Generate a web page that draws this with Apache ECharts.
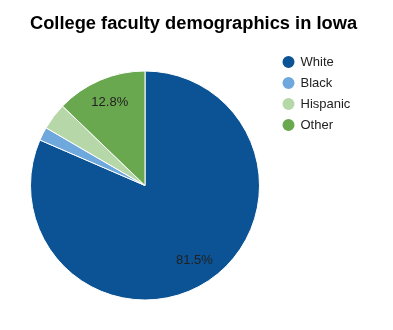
<!DOCTYPE html>
<html>
<head>
<meta charset="utf-8">
<script src="https://cdn.jsdelivr.net/npm/echarts@6/dist/echarts.min.js"></script>
<style>
  html, body { margin: 0; padding: 0; background: #fff; }
  #chart { width: 393px; height: 330px; }
</style>
</head>
<body>
<div id="chart"></div>
<script>
// Faculty share by group, in percent
const categories = ['White', 'Black', 'Hispanic', 'Other'];
const shares = [81.5, 1.9, 3.8, 12.8];
const sliceColors = ['#0b5394', '#6fa8dc', '#b6d7a8', '#6aa84f'];
// Groups whose percentage is printed on the slice
const labelled = ['White', 'Other'];

const center = [145, 185.5];
const radius = 114.5;

const sliceData = categories.map((name, i) => ({
  name,
  value: shares[i],
  itemStyle: { color: sliceColors[i] }
}));

// Transparent ring that carries the labels a little further out than mid-radius
const labelData = categories.map((name, i) => ({
  name,
  value: shares[i],
  label: { show: labelled.includes(name) }
}));

const chart = echarts.init(document.getElementById('chart'), null, { renderer: 'canvas' });
chart.setOption({
  animation: false,
  title: {
    text: 'College faculty demographics in Iowa',
    left: 193.5,
    textAlign: 'center',
    top: 15,
    padding: 0,
    textStyle: {
      fontFamily: 'Liberation Sans, Arial, sans-serif',
      fontSize: 18.3,
      fontWeight: 'bold',
      color: '#000'
    }
  },
  legend: {
    orient: 'vertical',
    left: 280.5,
    top: 54,
    padding: 0,
    icon: 'circle',
    itemWidth: 14,
    itemHeight: 14,
    itemGap: 5,
    data: categories,
    textStyle: {
      fontFamily: 'Liberation Sans, Arial, sans-serif',
      fontSize: 13,
      color: '#222'
    }
  },
  series: [
    {
      type: 'pie',
      center,
      radius: [0, radius],
      startAngle: 90,
      clockwise: true,
      label: { show: false },
      labelLine: { show: false },
      itemStyle: { borderColor: '#fff', borderWidth: 1 },
      emphasis: { disabled: true },
      data: sliceData
    },
    {
      type: 'pie',
      center,
      radius: [radius * 0.52, radius],
      startAngle: 90,
      clockwise: true,
      silent: true,
      itemStyle: { color: 'rgba(0,0,0,0)' },
      label: {
        position: 'inside',
        formatter: p => p.value.toFixed(1) + '%',
        fontFamily: 'Liberation Sans, Arial, sans-serif',
        fontSize: 13,
        color: '#222'
      },
      labelLine: { show: false },
      emphasis: { disabled: true },
      legendHoverLink: false,
      data: labelData
    }
  ]
});
</script>
</body>
</html>
